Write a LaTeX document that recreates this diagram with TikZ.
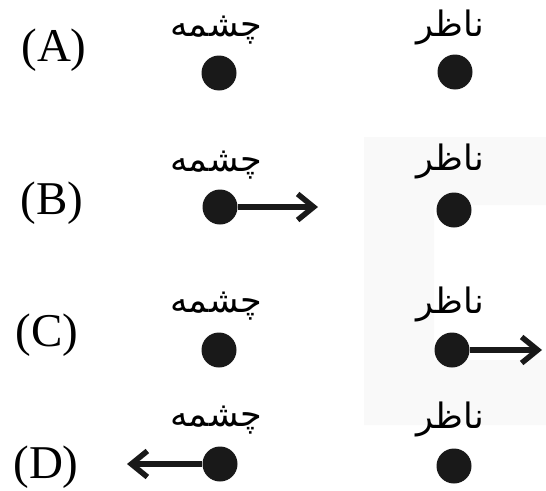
\documentclass[tikz,border=0pt]{standalone}
\usepackage{fontspec}
\setmainfont{Liberation Serif}
\newfontfamily\arabicfont[Script=Arabic]{DejaVu Sans}
\TeXXeTstate=1
\usetikzlibrary{arrows.meta}
\begin{document}
\begin{tikzpicture}[x=1pt,y=-1pt,
  dot/.style={circle,fill=black!90,minimum size=35pt,inner sep=0pt},
  fa/.style={font=\arabicfont\fontsize{35}{40}\selectfont,anchor=base,inner sep=0pt},
  lab/.style={font=\fontsize{47}{50}\selectfont,inner sep=0pt},
  arr/.style={line width=5.5pt,draw=black!90,-{Straight Barb[length=16pt,width=26pt]}}]
\useasboundingbox (0,0) rectangle (546,490);
% faint scan tint
\fill[black!2.5] (364,137) -- (546,137) -- (546,205) -- (434,205) -- (434,360) -- (546,360) -- (546,425) -- (364,425) -- cycle;
% labels
\node[lab] (LA) at (54,50) {(A)};
\node[lab] (LB) at (52,203) {(B)};
\node[lab] (LC) at (47,335) {(C)};
\node[lab] (LD) at (46,467) {(D)};
% row A
\node[fa] (cA) at (216,36) {\beginR چشمه\endR};
\node[fa] (nA) at (450,36) {\beginR ناظر\endR};
\node[dot] (sA) at (219,73) {};
\node[dot] (oA) at (455,72) {};
% row B
\node[fa] (cB) at (216,171) {\beginR چشمه\endR};
\node[fa] (nB) at (450,170) {\beginR ناظر\endR};
\node[dot] (sB) at (220,207) {};
\node[dot] (oB) at (454,210) {};
\coordinate (tB) at (318,207);
\draw[arr] (sB.east) -- (tB);
% row C
\node[fa] (cC) at (216,312) {\beginR چشمه\endR};
\node[fa] (nC) at (450,313) {\beginR ناظر\endR};
\node[dot] (sC) at (219,350) {};
\node[dot] (oC) at (452,350) {};
\coordinate (tC) at (542,350);
\draw[arr] (oC.east) -- (tC);
% row D
\node[fa] (cD) at (216,426) {\beginR چشمه\endR};
\node[fa] (nD) at (450,428) {\beginR ناظر\endR};
\node[dot] (sD) at (220,464) {};
\node[dot] (oD) at (454,466) {};
\coordinate (tD) at (127,464);
\draw[arr] (sD.west) -- (tD);
\end{tikzpicture}
\end{document}
